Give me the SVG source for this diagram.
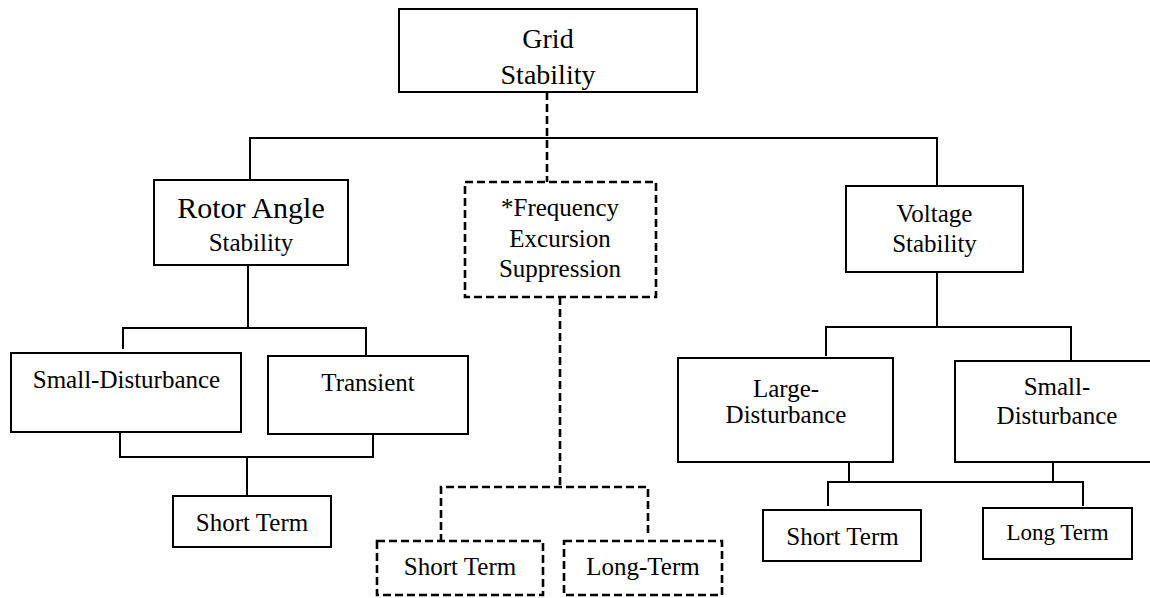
<svg xmlns="http://www.w3.org/2000/svg" width="1150" height="598" viewBox="0 0 1150 598" font-family="'Liberation Serif', 'Times New Roman', Times, 'DejaVu Serif', serif">
<style>
.box{fill:#fff;stroke:#000;stroke-width:2}
.dbox{fill:#fff;stroke:#000;stroke-width:2.6;stroke-dasharray:8 4}
.ln{fill:none;stroke:#000;stroke-width:2}
.dln{fill:none;stroke:#000;stroke-width:2.6;stroke-dasharray:8 4}
text{font-family:'Liberation Serif','Times New Roman',Times,'DejaVu Serif',serif;fill:#000;text-anchor:middle;font-size:25px}
</style>
<rect width="1150" height="598" fill="#fff"/>
<g id="connectors">
<polyline class="ln" points="250,179 250,138 937,138 937,186"/>
<line class="dln" x1="547" y1="92" x2="547" y2="182"/>
<polyline class="ln" points="123,349 123,328 366,328 366,355"/>
<line class="ln" x1="248" y1="265" x2="248" y2="328"/>
<polyline class="ln" points="120,432 120,457 373,457 373,435"/>
<line class="ln" x1="247" y1="457" x2="247" y2="496"/>
<line class="dln" x1="560" y1="297" x2="560" y2="487"/>
<polyline class="dln" points="441,542 441,487 648,487 648,533"/>
<line class="ln" x1="937" y1="272" x2="937" y2="327"/>
<polyline class="ln" points="826,356 826,327 1071,327 1071,360"/>
<line class="ln" x1="849" y1="459" x2="849" y2="482"/>
<line class="ln" x1="1053" y1="462" x2="1053" y2="482"/>
<polyline class="ln" points="828,506 828,482 1083,482 1083,506"/>
</g>
<g id="grid-stability">
<rect class="box" x="399" y="9" width="298" height="83"/>
<text x="548" y="48" style="font-size:28px">Grid</text>
<text x="548" y="84" style="font-size:28px">Stability</text>
</g>
<g id="rotor-angle">
<rect class="box" x="154" y="180" width="194" height="85"/>
<text x="251" y="218" style="font-size:30px">Rotor Angle</text>
<text x="251" y="251">Stability</text>
</g>
<g id="frequency">
<rect class="dbox" x="465" y="182" width="191" height="115"/>
<text x="560" y="216">*Frequency</text>
<text x="560" y="247">Excursion</text>
<text x="560" y="277">Suppression</text>
</g>
<g id="voltage">
<rect class="box" x="846" y="186" width="177" height="86"/>
<text x="934.5" y="222">Voltage</text>
<text x="934.5" y="252">Stability</text>
</g>
<g id="small-disturbance-left">
<rect class="box" x="11" y="353" width="230" height="79"/>
<text x="126.5" y="388">Small-Disturbance</text>
</g>
<g id="transient">
<rect class="box" x="268" y="356" width="200" height="78"/>
<text x="368" y="391">Transient</text>
</g>
<g id="short-term-left">
<rect class="box" x="173" y="496" width="158" height="51"/>
<text x="252" y="531">Short Term</text>
</g>
<g id="short-term-mid">
<rect class="dbox" x="377" y="541" width="166" height="54"/>
<text x="460" y="575">Short Term</text>
</g>
<g id="long-term-mid">
<rect class="dbox" x="564" y="541" width="158" height="54"/>
<text x="643" y="575">Long-Term</text>
</g>
<g id="large-disturbance">
<rect class="box" x="678" y="358" width="215" height="104"/>
<text x="786" y="397">Large-</text>
<text x="786" y="423">Disturbance</text>
</g>
<g id="small-disturbance-right">
<rect class="box" x="955" y="361" width="206" height="101"/>
<text x="1057" y="395">Small-</text>
<text x="1057" y="424">Disturbance</text>
</g>
<g id="short-term-right">
<rect class="box" x="763" y="510" width="158" height="51"/>
<text x="842.5" y="545">Short Term</text>
</g>
<g id="long-term-right">
<rect class="box" x="983" y="508" width="149" height="51"/>
<text x="1057.5" y="540" style="font-size:23px">Long Term</text>
</g>
</svg>
